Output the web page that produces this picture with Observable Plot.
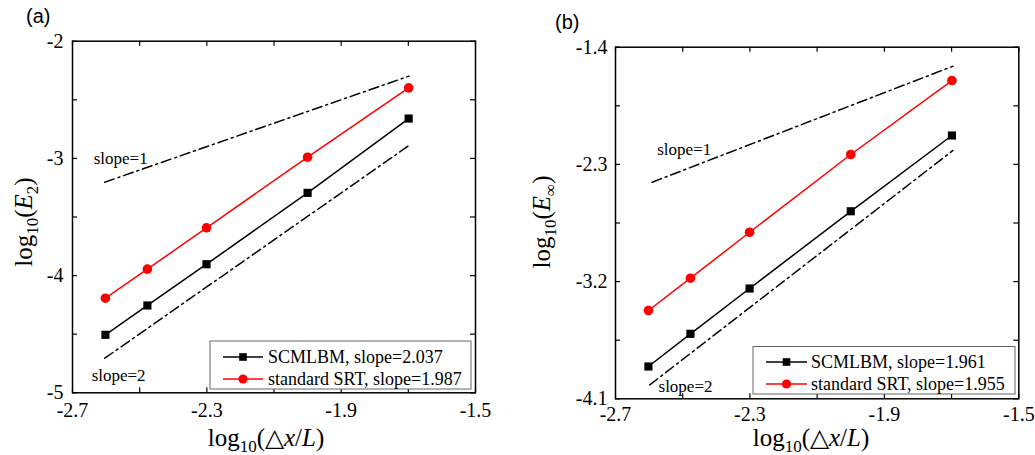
<!DOCTYPE html>
<html>
<head>
<meta charset="utf-8">
<script src="https://cdn.jsdelivr.net/npm/d3@7"></script>
<script src="https://cdn.jsdelivr.net/npm/@observablehq/plot@0.6"></script>
<style>
  html, body { margin: 0; padding: 0; background: #fff; }
  #root { position: relative; width: 1035px; height: 455px; overflow: hidden; }
  .panel { position: absolute; top: 0; }
  .tag { position: absolute; font-family: "Liberation Sans", Arial, sans-serif; font-size: 20px; color: #000; }
</style>
</head>
<body>
<div id="root"></div>
<script>
// ---- data ----
const dxL = [-2.602, -2.477, -2.301, -2.000, -1.699];           // log10(Δx/L)
const aSCMLBM = [-4.505, -4.255, -3.903, -3.294, -2.660];       // log10(E2)
const aSRT    = [-4.193, -3.945, -3.592, -2.990, -2.398];
const bSCMLBM = [-3.852, -3.601, -3.253, -2.660, -2.078];       // log10(E∞)
const bSRT    = [-3.422, -3.174, -2.821, -2.224, -1.656];

const aSlope1X = [-2.604, -1.698], aSlope1Y = [-3.203, -2.298];
const aSlope2X = [-2.604, -1.698], aSlope2Y = [-4.705, -2.890];
const bSlope1X = [-2.591, -1.696], bSlope1Y = [-2.437, -1.546];
const bSlope2X = [-2.598, -1.696], bSlope2Y = [-3.993, -2.193];

const xTicks = [-2.7, -2.5, -2.3, -2.1, -1.9, -1.7, -1.5];
const xTickLabels = [-2.7, -2.3, -1.9, -1.5];
const aYTicks = [-2, -2.5, -3, -3.5, -4, -4.5, -5];
const aYTickLabels = [-2, -3, -4, -5];
const bYTicks = [-1.4, -1.85, -2.3, -2.75, -3.2, -3.65, -4.1];
const bYTickLabels = [-1.4, -2.3, -3.2, -4.1];

const aLegend = ["SCMLBM, slope=2.037", "standard SRT, slope=1.987"];
const bLegend = ["SCMLBM, slope=1.961", "standard SRT, slope=1.955"];
const aSlopeLabels = [{x: -2.637, y: -3.0, t: "slope=1"}, {x: -2.643, y: -4.852, t: "slope=2"}];
const bSlopeLabels = [{x: -2.576, y: -2.186, t: "slope=1"}, {x: -2.572, y: -4.004, t: "slope=2"}];

const serif = "'Liberation Serif', 'Times New Roman', serif";
const dashDot = "10,4,2,4";

function zip(xs, ys) { return xs.map((x, i) => ({x, y: ys[i]})); }

function panel(o) {
  const innerW = o.width - o.ml - o.mr;
  const innerH = o.height - o.mt - o.mb;
  const black = zip(dxL, o.scml), red = zip(dxL, o.srt);
  const svg = Plot.plot({
    width: o.width, height: o.height,
    marginLeft: o.ml, marginRight: o.mr, marginTop: o.mt, marginBottom: o.mb,
    style: {fontFamily: serif, background: "transparent", color: "#000", overflow: "visible"},
    x: {domain: [-2.7, -1.5]},
    y: {domain: o.yDomain},
    marks: [
      Plot.axisX(xTickLabels, {tickSize: 0, tickPadding: o.xPad, fontSize: 20, tickFormat: d => d.toFixed(1), label: null}),
      Plot.axisY(o.yLabels, {tickSize: 0, tickPadding: o.yPad, fontSize: 20, tickFormat: o.yFmt, label: null}),
      Plot.tickX(xTicks, {x: d => d, insetTop: innerH - 5, stroke: "#000", strokeWidth: 1.2}),
      Plot.tickX(xTicks, {x: d => d, insetBottom: innerH - 5, stroke: "#000", strokeWidth: 1.2}),
      Plot.tickY(o.yTicks, {y: d => d, insetRight: innerW - 5, stroke: "#000", strokeWidth: 1.2}),
      Plot.tickY(o.yTicks, {y: d => d, insetLeft: innerW - 5, stroke: "#000", strokeWidth: 1.2}),
      Plot.line(zip(o.s1x, o.s1y), {x: "x", y: "y", stroke: "#000", strokeWidth: 1.5, strokeDasharray: dashDot}),
      Plot.line(zip(o.s2x, o.s2y), {x: "x", y: "y", stroke: "#000", strokeWidth: 1.5, strokeDasharray: dashDot}),
      Plot.text(o.slopeLabels, {x: "x", y: "y", text: "t", textAnchor: "start", fontSize: 17, fill: "#000"}),
      Plot.line(black, {x: "x", y: "y", stroke: "#000", strokeWidth: 1.5}),
      Plot.line(red, {x: "x", y: "y", stroke: "#ff0000", strokeWidth: 1.5}),
      Plot.dot(black, {x: "x", y: "y", symbol: "square", r: 4.6, fill: "#000", stroke: "none"}),
      Plot.dot(red, {x: "x", y: "y", symbol: "circle", r: 4.8, fill: "#ff0000", stroke: "none"}),
      Plot.frame({stroke: "#000", strokeWidth: 1.5})
    ]
  });
  svg.classList.add("panel");
  svg.style.left = o.left + "px";
  const s = d3.select(svg);
  // legend
  const L = o.legend;
  const g = s.append("g").attr("font-family", serif).attr("font-size", 18).attr("text-anchor", "start");
  g.append("rect").attr("x", L.x).attr("y", L.y).attr("width", L.w).attr("height", L.h)
    .attr("fill", "#fff").attr("stroke", "#666").attr("stroke-width", 1);
  const entries = [
    {label: o.legendText[0], color: "#000", shape: "square", y: L.y + L.r1},
    {label: o.legendText[1], color: "#ff0000", shape: "circle", y: L.y + L.r2}
  ];
  for (const e of entries) {
    g.append("line").attr("x1", L.x + L.lx1).attr("x2", L.x + L.lx2).attr("y1", e.y).attr("y2", e.y)
      .attr("stroke", e.color).attr("stroke-width", 1.5);
    const cx = L.x + (L.lx1 + L.lx2) / 2;
    if (e.shape === "square") {
      g.append("rect").attr("x", cx - 3.8).attr("y", e.y - 3.8).attr("width", 7.6).attr("height", 7.6).attr("fill", e.color);
    } else {
      g.append("circle").attr("cx", cx).attr("cy", e.y).attr("r", 4.6).attr("fill", e.color);
    }
    g.append("text").attr("x", L.x + L.tx).attr("y", e.y).attr("dy", "0.33em")
      .attr("text-anchor", "start").attr("fill", "#000").text(e.label);
  }
  // axis titles
  const xt = s.append("text").attr("x", o.xTitle[0]).attr("y", o.xTitle[1]).attr("text-anchor", "middle")
    .attr("font-family", serif).attr("font-size", 25).attr("fill", "#000");
  xt.append("tspan").text("log");
  xt.append("tspan").attr("font-size", 17).attr("dy", 6).text("10");
  xt.append("tspan").attr("dy", -6).text("(");
  xt.append("tspan").text("\u25B3");
  xt.append("tspan").attr("font-style", "italic").text("x");
  xt.append("tspan").text("/");
  xt.append("tspan").attr("font-style", "italic").text("L");
  xt.append("tspan").text(")");
  const yt = s.append("text").attr("transform", `translate(${o.yTitle[0]},${o.yTitle[1]}) rotate(-90)`)
    .attr("text-anchor", "middle").attr("font-family", serif).attr("font-size", 25).attr("fill", "#000");
  yt.append("tspan").text("log");
  yt.append("tspan").attr("font-size", 17).attr("dy", 6).text("10");
  yt.append("tspan").attr("dy", -6).text("(");
  yt.append("tspan").attr("font-style", "italic").text("E");
  yt.append("tspan").attr("font-size", 17).attr("dy", 6).text(o.sub);
  yt.append("tspan").attr("dy", -6).text(")");
  return svg;
}

const root = document.getElementById("root");
root.appendChild(panel({
  left: 0, width: 517, height: 455, ml: 72, mr: 42, mt: 40.7, mb: 62.7,
  yDomain: [-5, -2], yTicks: aYTicks, yLabels: aYTickLabels, yFmt: d => String(d),
  xPad: 10, yPad: 9,
  scml: aSCMLBM, srt: aSRT,
  s1x: aSlope1X, s1y: aSlope1Y, s2x: aSlope2X, s2y: aSlope2Y,
  slopeLabels: aSlopeLabels,
  legend: {x: 210, y: 341, w: 261, h: 48, r1: 16, r2: 38, lx1: 13, lx2: 53, tx: 58},
  legendText: aLegend,
  xTitle: [266, 446], yTitle: [32, 222], sub: "2"
}));
root.appendChild(panel({
  left: 517, width: 518, height: 455, ml: 98, mr: 16.7, mt: 46.7, mb: 56.7,
  yDomain: [-4.1, -1.4], yTicks: bYTicks, yLabels: bYTickLabels, yFmt: d => d.toFixed(1),
  xPad: 8, yPad: 8,
  scml: bSCMLBM, srt: bSRT,
  s1x: bSlope1X, s1y: bSlope1Y, s2x: bSlope2X, s2y: bSlope2Y,
  slopeLabels: bSlopeLabels,
  legend: {x: 236, y: 346.5, w: 262, h: 47.5, r1: 15.5, r2: 37.5, lx1: 13, lx2: 54, tx: 58},
  legendText: bLegend,
  xTitle: [294, 446], yTitle: [33, 222], sub: "\u221E"
}));
const ta = document.createElement("div"); ta.className = "tag"; ta.textContent = "(a)";
ta.style.left = "26px"; ta.style.top = "5px"; root.appendChild(ta);
const tb = document.createElement("div"); tb.className = "tag"; tb.textContent = "(b)";
tb.style.left = "555px"; tb.style.top = "11px"; root.appendChild(tb);
</script>
</body>
</html>
